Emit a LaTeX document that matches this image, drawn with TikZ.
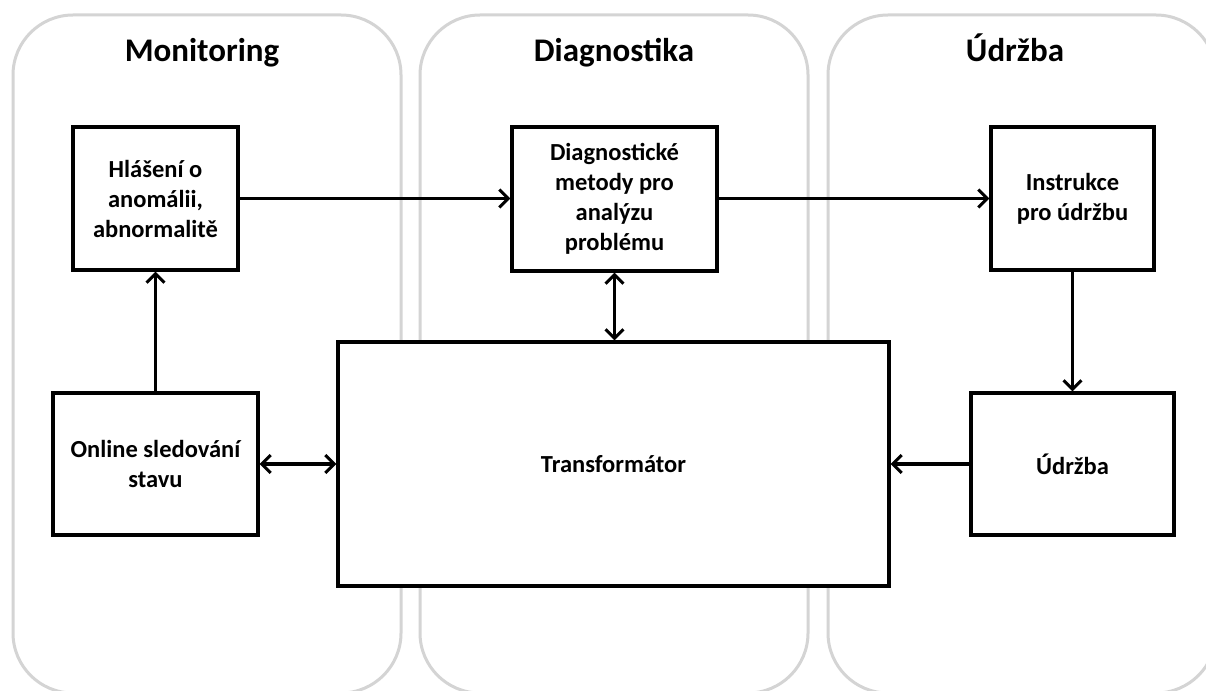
\documentclass[tikz,border=0pt]{standalone}
\usepackage{fontspec}
\setmainfont{Carlito}
\usetikzlibrary{arrows.meta}
\definecolor{panelgray}{RGB}{212,212,212}
\begin{document}
\begin{tikzpicture}[x=1pt,y=-1pt,
  panel/.style={draw=panelgray,line width=3pt,rounded corners=60pt},
  box/.style={draw=black,line width=3.2pt,fill=white,align=center,inner sep=0pt,
    font=\fontsize{24.5}{30}\selectfont\bfseries},
  title/.style={anchor=base,font=\fontsize{33}{40}\selectfont\bfseries},
  conn/.style={line width=3.2pt,-{Straight Barb[length=9pt,width=18pt,line width=3pt]}},
  biconn/.style={line width=3.2pt,{Straight Barb[length=9pt,width=18pt,line width=3pt]}-{Straight Barb[length=9pt,width=18pt,line width=3pt]}}]
\useasboundingbox (0,0) rectangle (1206,690);
\clip (0,0) rectangle (1206,690);
\fill[white] (0,0) rectangle (1206,690);
% panels
\draw[panel] (13,15) rectangle (401,693);
\draw[panel] (420,15) rectangle (808,693);
\draw[panel] (828,15) rectangle (1216,693);
% titles
\node[title] (t1) at (202,62) {Monitoring};
\node[title] (t2) at (614,62) {Diagnostika};
\node[title] (t3) at (1015,62) {Údržba};
% boxes
\node[box,minimum width=165pt,minimum height=143pt] (hl) at (155.5,198.5) {Hlášení o\\anomálii,\\abnormalitě};
\node[box,minimum width=205pt,minimum height=144pt] (dg) at (614.5,199) {Diagnostické\\metody pro\\analýzu\\problému};
\node[box,minimum width=163pt,minimum height=143pt] (ins) at (1072.5,198.5) {Instrukce\\pro údržbu};
\node[box,minimum width=205pt,minimum height=142pt] (onl) at (155.5,464) {Online sledování\\stavu};
\node[box,minimum width=551pt,minimum height=244pt] (tr) at (613.5,464) {Transformátor};
\node[box,minimum width=203pt,minimum height=142pt] (ud) at (1072.5,464) {Údržba};
% connectors
\draw[conn] (hl.east) -- (hl.east -| dg.west);
\draw[conn] (dg.east |- hl.east) -- (hl.east -| ins.west);
\draw[biconn] (dg.south) -- (dg.south |- tr.north);
\draw[conn] (onl.north) -- (hl.south);
\draw[biconn] (onl.east) -- (tr.west);
\draw[conn] (ins.south) -- (ud.north);
\draw[conn] (ud.west) -- (tr.east);
\end{tikzpicture}
\end{document}
